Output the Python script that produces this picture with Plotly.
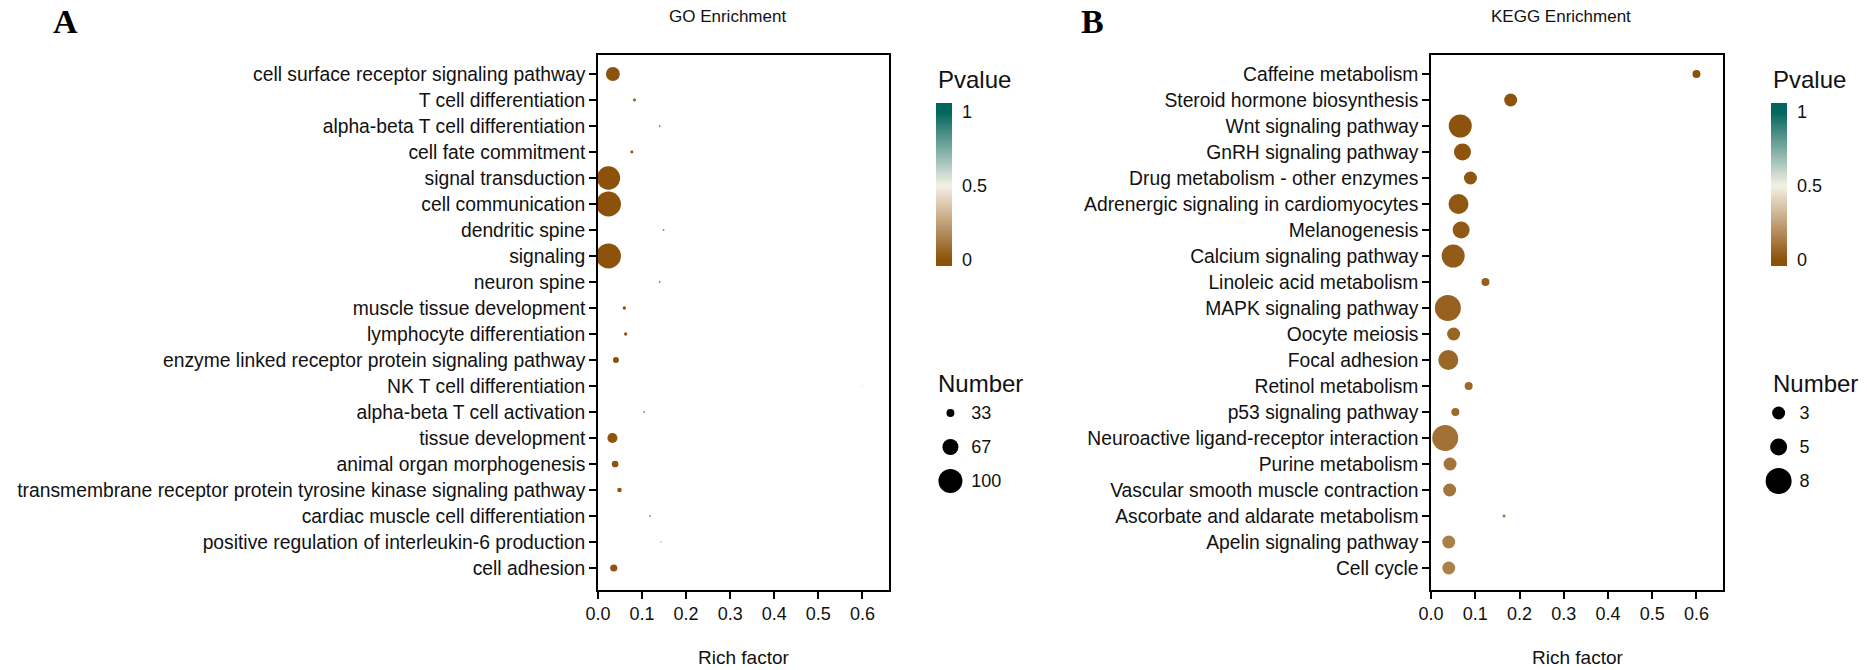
import numpy as np
import plotly.graph_objects as go

W, H = 1867, 670

# ---------------- data ----------------
go_terms = [
    "cell surface receptor signaling pathway",
    "T cell differentiation",
    "alpha-beta T cell differentiation",
    "cell fate commitment",
    "signal transduction",
    "cell communication",
    "dendritic spine",
    "signaling",
    "neuron spine",
    "muscle tissue development",
    "lymphocyte differentiation",
    "enzyme linked receptor protein signaling pathway",
    "NK T cell differentiation",
    "alpha-beta T cell activation",
    "tissue development",
    "animal organ morphogenesis",
    "transmembrane receptor protein tyrosine kinase signaling pathway",
    "cardiac muscle cell differentiation",
    "positive regulation of interleukin-6 production",
    "cell adhesion",
]
go_rich = [0.034, 0.083, 0.140, 0.077, 0.024, 0.024, 0.149, 0.024, 0.140, 0.060,
           0.063, 0.041, 0.600, 0.105, 0.033, 0.039, 0.049, 0.118, 0.143, 0.036]
go_number = [58, 12, 7, 12, 97, 104, 7, 104, 7, 14,
             14, 25, 3, 7, 42, 28, 19, 7, 5, 30]
go_pvalue = [0.0001, 0.0005, 0.001, 0.001, 0.002, 0.002, 0.003, 0.003, 0.004, 0.005,
             0.005, 0.006, 0.007, 0.008, 0.009, 0.010, 0.011, 0.012, 0.013, 0.014]
go_size_breaks = [33, 67, 100]

kegg_terms = [
    "Caffeine metabolism",
    "Steroid hormone biosynthesis",
    "Wnt signaling pathway",
    "GnRH signaling pathway",
    "Drug metabolism - other enzymes",
    "Adrenergic signaling in cardiomyocytes",
    "Melanogenesis",
    "Calcium signaling pathway",
    "Linoleic acid metabolism",
    "MAPK signaling pathway",
    "Oocyte meiosis",
    "Focal adhesion",
    "Retinol metabolism",
    "p53 signaling pathway",
    "Neuroactive ligand-receptor interaction",
    "Purine metabolism",
    "Vascular smooth muscle contraction",
    "Ascorbate and aldarate metabolism",
    "Apelin signaling pathway",
    "Cell cycle",
]
kegg_rich = [0.600, 0.180, 0.066, 0.071, 0.089, 0.062, 0.068, 0.050, 0.123, 0.038,
             0.051, 0.039, 0.085, 0.055, 0.032, 0.043, 0.042, 0.165, 0.040, 0.040]
kegg_number = [2, 3, 7, 5, 3, 6, 5, 7, 2, 8, 3, 6, 2, 2, 8, 3, 3, 1, 3, 3]
kegg_pvalue = [0.002, 0.004, 0.006, 0.010, 0.015, 0.020, 0.025, 0.030, 0.040, 0.050,
               0.060, 0.070, 0.075, 0.080, 0.100, 0.110, 0.115, 0.120, 0.140, 0.150]
kegg_size_breaks = [3, 5, 8]

pvalue_ticks = [0, 0.5, 1]

# ---------------- styles / scales ----------------
FONT = "Liberation Sans, Arial, sans-serif"
TXT = "#111111"
BROWN, CREAM, TEAL = "#8c510a", "#f5f0e6", "#01665e"
CMIN, CMAX = -0.04, 1.06


def cpos(v):
    return (v - CMIN) / (CMAX - CMIN)


colorscale = [[0, BROWN], [cpos(0), BROWN], [cpos(0.5), CREAM], [cpos(1), TEAL], [1, TEAL]]


def go_size(v):
    return np.interp(v, [0, 100, 120], [0, 24, 28.8])


def kegg_size(v):
    return np.interp(v, [0, 1, 2, 3, 5, 8, 10], [0, 3, 8, 13, 17, 26, 30])


def px_x(x):
    return x / W


def px_y(y):
    return 1 - y / H


Y_DOM = [px_y(590), px_y(55)]
n = len(go_terms)
Y_RANGE = [n - 1 + 22 / 26, -19 / 26]

fig = go.Figure()

panels = [
    dict(terms=go_terms, rich=go_rich, num=go_number, p=go_pvalue, sz=go_size,
         breaks=go_size_breaks, x0=589, x1=882, leg=929, dot=944, title="GO Enrichment",
         letter="A", letter_x=53),
    dict(terms=kegg_terms, rich=kegg_rich, num=kegg_number, p=kegg_pvalue, sz=kegg_size,
         breaks=kegg_size_breaks, x0=1428, x1=1722, leg=1770, dot=1778,
         title="KEGG Enrichment", letter="B", letter_x=1087),
]

annotations = []
for i, P in enumerate(panels):
    ax = i + 1
    xa = "x" if ax == 1 else f"x{ax}"
    ya = "y" if ax == 1 else f"y{ax}"
    fig.add_trace(go.Scatter(
        x=P["rich"], y=P["terms"], mode="markers", xaxis=xa, yaxis=ya,
        showlegend=False, hoverinfo="x+y",
        marker=dict(
            size=P["sz"](np.array(P["num"], dtype=float)),
            color=P["p"], colorscale=colorscale, cmin=CMIN, cmax=CMAX,
            line=dict(width=0), opacity=1,
            colorbar=dict(
                x=px_x(P["leg"]), xanchor="left", xpad=0, ypad=0,
                y=px_y(184.5), yanchor="middle", len=163, lenmode="pixels",
                thickness=16, outlinewidth=0,
                tickvals=pvalue_ticks, ticktext=["0", "0.5", "1"],
                ticks="outside", ticklen=7, tickcolor="rgba(0,0,0,0)",
                tickfont=dict(family=FONT, size=18, color=TXT),
            ),
        ),
    ))
    axis_common = dict(showline=True, linecolor="black", linewidth=1.5, mirror=True,
                       ticks="outside", ticklen=7, tickwidth=1.5, tickcolor="black",
                       showgrid=False, zeroline=False)
    fig.layout[f"xaxis{'' if ax == 1 else ax}"] = dict(
        domain=[px_x(P["x0"]), px_x(P["x1"])], range=[0, 0.66], dtick=0.1, tick0=0,
        tickformat=".1f", anchor=ya,
        tickfont=dict(family=FONT, size=18, color=TXT),
        **axis_common)
    fig.layout[f"yaxis{'' if ax == 1 else ax}"] = dict(
        domain=Y_DOM, type="category", categoryorder="array", categoryarray=P["terms"],
        range=Y_RANGE, anchor=xa,
        tickfont=dict(family=FONT, size=19.3, color=TXT),
        **axis_common)

    # size legend (own small axes)
    lx = i + 3
    lxa, lya = f"x{lx}", f"y{lx}"
    labels = [str(b) for b in P["breaks"]]
    fig.add_trace(go.Scatter(
        x=[0] * len(labels), y=labels, mode="markers", xaxis=lxa, yaxis=lya,
        showlegend=False, hoverinfo="skip",
        marker=dict(size=P["sz"](np.array(P["breaks"], dtype=float)), color="#000000",
                    opacity=1, line=dict(width=0)),
    ))
    fig.layout[f"xaxis{lx}"] = dict(domain=[px_x(P["dot"] - 15), px_x(P["dot"] + 15)],
                                    range=[-1, 1], visible=False, anchor=lya)
    fig.layout[f"yaxis{lx}"] = dict(domain=[px_y(498), px_y(396)], type="category",
                                    categoryorder="array", categoryarray=labels,
                                    range=[len(labels) - 0.5, -0.5], anchor=lxa, side="right",
                                    showline=False, showgrid=False, zeroline=False, ticks="",
                                    ticklabelstandoff=5,
                                    tickfont=dict(family=FONT, size=18, color=TXT))

    title_x = P["x0"] + 0.445 * (P["x1"] - P["x0"])
    annotations += [
        dict(text="Pvalue", x=px_x(P["leg"]), y=px_y(79), xref="paper", yref="paper",
             xanchor="left", yanchor="middle", showarrow=False,
             font=dict(family=FONT, size=24, color=TXT)),
        dict(text="Number", x=px_x(P["leg"]), y=px_y(383), xref="paper", yref="paper",
             xanchor="left", yanchor="middle", showarrow=False,
             font=dict(family=FONT, size=24, color=TXT)),
        dict(text=P["title"], x=px_x(title_x), y=px_y(16), xref="paper",
             yref="paper", xanchor="center", yanchor="middle", showarrow=False,
             font=dict(family=FONT, size=17, color=TXT)),
        dict(text="Rich factor", x=px_x((P["x0"] + P["x1"]) / 2), y=px_y(657), xref="paper",
             yref="paper", xanchor="center", yanchor="middle", showarrow=False,
             font=dict(family=FONT, size=19, color=TXT)),
        dict(text=f"<b>{P['letter']}</b>", x=px_x(P["letter_x"]), y=px_y(21), xref="paper",
             yref="paper", xanchor="center", yanchor="middle", showarrow=False,
             font=dict(family="Liberation Serif, Times New Roman, serif", size=34,
                       color="black")),
    ]

fig.update_layout(
    width=W, height=H, margin=dict(l=0, r=0, t=0, b=0),
    paper_bgcolor="white", plot_bgcolor="white",
    annotations=annotations, showlegend=False,
)

fig.write_html(
    "out.html",
    config={"displayModeBar": False},
    post_script="document.body.style.margin='0';document.body.style.overflow='hidden';",
)
